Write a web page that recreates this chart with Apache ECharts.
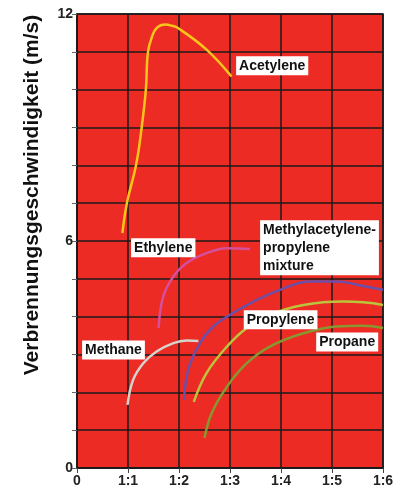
<!DOCTYPE html>
<html>
<head>
<meta charset="utf-8">
<script src="https://cdn.jsdelivr.net/npm/echarts@6/dist/echarts.min.js"></script>
<style>
  html, body { margin: 0; padding: 0; background: #fff; }
  #myChart { width: 401px; height: 495px; }
</style>
</head>
<body>
<div id="myChart"></div>
<script>
// x = Luft:Gas Verhältnis (0 .. 1:6), y = Geschwindigkeit in m/s
var xTicks = ['0', '1:1', '1:2', '1:3', '1:4', '1:5', '1:6'];
var yShown = [0, 6, 12];

var acetylene = [[0.89, 6.21], [0.98, 7.01], [1.16, 8.02], [1.27, 9.02], [1.35, 10.0], [1.39, 10.98],
  [1.47, 11.40], [1.57, 11.64], [1.73, 11.72], [1.86, 11.69], [1.98, 11.63], [2.54, 11.06], [3.03, 10.35]];
var ethylene = [[1.60, 3.70], [1.69, 4.53], [1.89, 5.06], [2.15, 5.42], [2.54, 5.68], [2.94, 5.81], [3.39, 5.79]];
var methane = [[0.99, 1.67], [1.10, 2.33], [1.30, 2.77], [1.56, 3.08], [1.89, 3.30], [2.15, 3.37], [2.38, 3.36]];
var mixture = [[2.10, 1.80], [2.18, 2.59], [2.41, 3.30], [2.67, 3.74], [3.00, 4.05], [3.46, 4.40], [3.98, 4.71],
  [4.57, 4.93], [5.09, 4.93], [5.61, 4.81], [6.00, 4.71]];
var propylene = [[2.29, 1.75], [2.54, 2.51], [2.94, 3.21], [3.33, 3.70], [3.78, 4.05], [4.44, 4.31],
  [5.22, 4.40], [5.61, 4.38], [6.00, 4.31]];
var propane = [[2.50, 0.79], [2.64, 1.45], [2.94, 2.15], [3.33, 2.77], [3.78, 3.21], [4.44, 3.56],
  [5.09, 3.74], [5.61, 3.76], [6.00, 3.70]];

// Beschriftungen (linke Kante des Kastens, Mitte)
var labelNames = ['Acetylene', 'Ethylene', 'Methylacetylene-\npropylene\nmixture', 'Propylene', 'Propane', 'Methane'];
var labelPos = [[3.12, 10.63], [1.06, 5.82], [3.59, 5.82], [3.27, 3.92], [4.69, 3.33], [0.10, 3.12]];

var myChart = echarts.init(document.getElementById('myChart'));

function line(name, data, color) {
  return {
    name: name,
    type: 'line',
    data: data,
    smooth: 0.4,
    showSymbol: false,
    lineStyle: { color: color, width: 2.5 },
    z: 3
  };
}

myChart.setOption({
  animation: false,
  grid: {
    left: 77, right: 18, top: 14, bottom: 27,
    show: true,
    backgroundColor: '#ec2b24',
    borderColor: '#1a1a1a',
    borderWidth: 1.5
  },
  xAxis: {
    type: 'value',
    min: 0, max: 6, interval: 1,
    axisLine: { show: true, lineStyle: { color: '#1a1a1a', width: 1.5 } },
    axisTick: { show: true, length: 5, lineStyle: { color: '#444' } },
    splitLine: { show: true, lineStyle: { color: '#1a1a1a', width: 1.5 } },
    axisLabel: {
      color: '#222', fontWeight: 'bold', fontSize: 14, fontFamily: 'Liberation Sans', margin: 6,
      formatter: function (v) { return xTicks[v]; }
    }
  },
  yAxis: {
    type: 'value',
    min: 0, max: 12, interval: 1,
    name: 'Verbrennungsgeschwindigkeit (m/s)',
    nameLocation: 'middle',
    nameGap: 34,
    nameTextStyle: {
      color: '#111', fontWeight: 'bold', fontSize: 21, fontFamily: 'Liberation Sans',
      padding: [0, 0, 0, 92]
    },
    axisLine: { show: true, lineStyle: { color: '#1a1a1a', width: 1.5 } },
    axisTick: { show: true, length: 5, lineStyle: { color: '#666' } },
    splitLine: { show: true, lineStyle: { color: '#1a1a1a', width: 1.5 } },
    axisLabel: {
      color: '#222', fontWeight: 'bold', fontSize: 14, fontFamily: 'Liberation Sans', margin: 4,
      formatter: function (v) { return yShown.indexOf(v) >= 0 ? String(v) : ''; }
    }
  },
  series: [
    line('Acetylene', acetylene, '#f8c419'),
    line('Ethylene', ethylene, '#d64f9c'),
    line('Methane', methane, '#d4d4cc'),
    line('Methylacetylene-propylene mixture', mixture, '#6c4fa6'),
    line('Propylene', propylene, '#bcc43c'),
    line('Propane', propane, '#86982f'),
    {
      name: 'labels',
      type: 'scatter',
      symbolSize: 0,
      z: 5,
      itemStyle: { opacity: 1 },
      data: labelPos.map(function (p, i) { return { name: labelNames[i], value: p }; }),
      label: {
        show: true,
        position: 'right',
        distance: 0,
        formatter: '{b}',
        color: '#111',
        fontWeight: 'bold',
        fontSize: 14,
        fontFamily: 'Liberation Sans',
        lineHeight: 18,
        align: 'left',
        opacity: 1,
        backgroundColor: '#ffffff',
        padding: [1, 3, 0, 3]
      }
    }
  ]
});
</script>
</body>
</html>
